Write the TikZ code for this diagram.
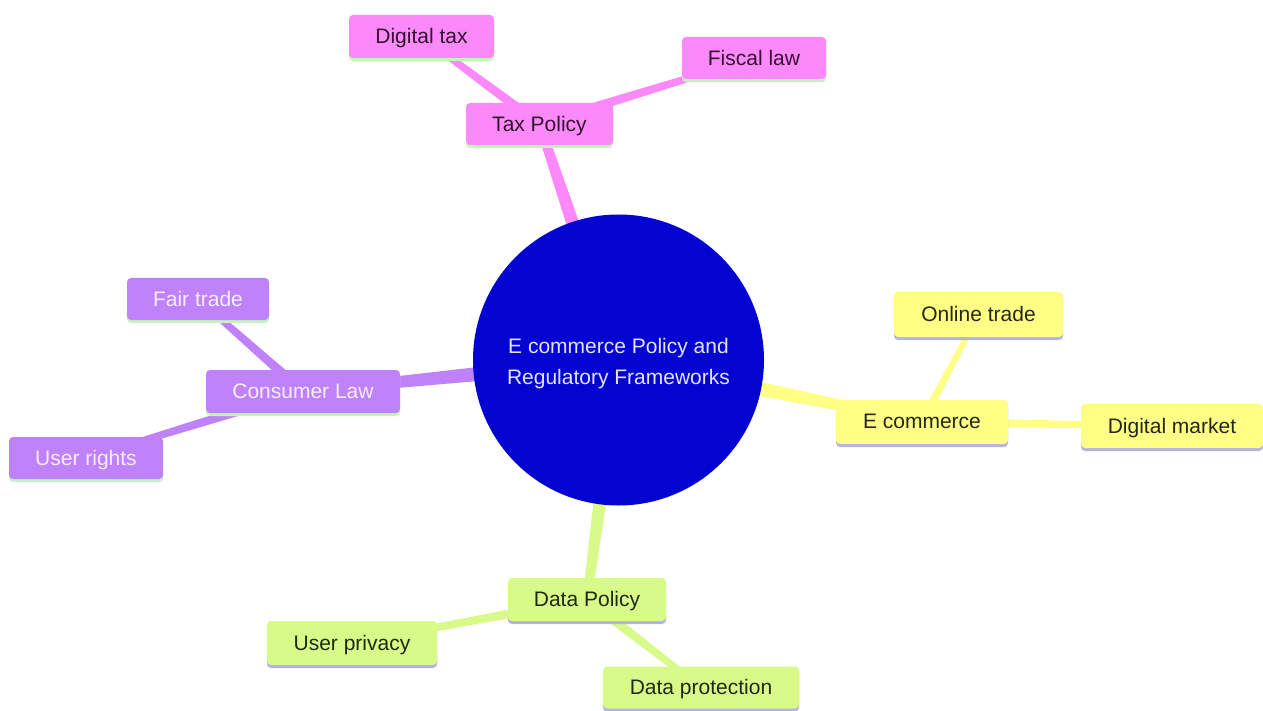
\documentclass[tikz,border=0pt]{standalone}
\usepackage{fontspec}
\setmainfont{Liberation Sans}
\usetikzlibrary{calc,shadows}
\definecolor{pinkF}{HTML}{FC89F9}
\definecolor{purpF}{HTML}{C082FA}
\definecolor{yellF}{HTML}{FFFF86}
\definecolor{grenF}{HTML}{D8FA88}
\definecolor{coreF}{HTML}{0404D2}
\definecolor{shGreen}{HTML}{C6F2C0}
\definecolor{shLav}{HTML}{B4B2E4}
\definecolor{pinkT}{HTML}{33102F}
\definecolor{purpT}{HTML}{F6EEFF}
\definecolor{yellT}{HTML}{262616}
\definecolor{grenT}{HTML}{1E2A0E}
\definecolor{coreT}{HTML}{E4E2FF}
\pgfdeclarelayer{bg}
\pgfsetlayers{bg,main}
\newcommand\mmbranch[5]{%
  \fill[#1] ($(#2.center)!#4!90:(#3.center)$) -- ($(#3.center)!#5!-90:(#2.center)$) --
            ($(#3.center)!#5!90:(#2.center)$) -- ($(#2.center)!#4!-90:(#3.center)$) -- cycle;}
\begin{document}
\begin{tikzpicture}[x=1pt,y=-1pt,
  every node/.style={font=\fontsize{21}{31}\selectfont},
  box/.style={rectangle, rounded corners=4pt, inner sep=0pt, align=center, text depth=1pt},
  pinkbox/.style={box, fill=pinkF, text=pinkT,
    drop shadow={shadow xshift=0pt, shadow yshift=-3pt, fill=shGreen, opacity=1}},
  purpbox/.style={box, fill=purpF, text=purpT,
    drop shadow={shadow xshift=0pt, shadow yshift=-3pt, fill=shGreen, opacity=1}},
  yellbox/.style={box, fill=yellF, text=yellT,
    drop shadow={shadow xshift=0pt, shadow yshift=-3pt, fill=shLav, opacity=1}},
  grenbox/.style={box, fill=grenF, text=grenT,
    drop shadow={shadow xshift=0pt, shadow yshift=-3pt, fill=shLav, opacity=1}},
  core/.style={circle, fill=coreF, text=coreT, inner sep=0pt, minimum size=291pt, align=center}
]
\useasboundingbox (0,0) rectangle (1263,711);

\node[core] (root) at (618.5,360) {};
\node[text=coreT, align=center] (roottext) at (618.5,364) {E commerce Policy and\\Regulatory Frameworks};

\node[pinkbox, minimum width=147pt, minimum height=42pt] (tax) at (539.5,124) {Tax Policy};
\node[pinkbox, minimum width=145pt, minimum height=43pt] (dtax) at (421.5,36.5) {Digital tax};
\node[pinkbox, minimum width=144pt, minimum height=42pt] (fiscal) at (754,58) {Fiscal law};

\node[purpbox, minimum width=194pt, minimum height=43pt] (cons) at (303,391.5) {Consumer Law};
\node[purpbox, minimum width=142pt, minimum height=42pt] (fair) at (198,299) {Fair trade};
\node[purpbox, minimum width=154pt, minimum height=42pt] (urights) at (86,458) {User rights};

\node[yellbox, minimum width=172pt, minimum height=44pt] (ecom) at (922,422) {E commerce};
\node[yellbox, minimum width=169pt, minimum height=45pt] (online) at (978.5,314.5) {Online trade};
\node[yellbox, minimum width=182pt, minimum height=44pt] (dmarket) at (1172,426) {Digital market};

\node[grenbox, minimum width=158pt, minimum height=43pt] (data) at (587,599.5) {Data Policy};
\node[grenbox, minimum width=170pt, minimum height=44pt] (privacy) at (352,643) {User privacy};
\node[grenbox, minimum width=196pt, minimum height=42pt] (protect) at (701,687.5) {Data protection};

\begin{pgfonlayer}{bg}
\fill[white] (0,0) rectangle (1263,711);
\mmbranch{pinkF}{root}{tax}{9pt}{4.5pt}
\mmbranch{purpF}{root}{cons}{9pt}{4.5pt}
\mmbranch{yellF}{root}{ecom}{9pt}{4.5pt}
\mmbranch{grenF}{root}{data}{9pt}{4.5pt}
\mmbranch{pinkF}{tax}{dtax}{5pt}{3pt}
\mmbranch{pinkF}{tax}{fiscal}{5pt}{3pt}
\mmbranch{purpF}{cons}{fair}{5pt}{3pt}
\mmbranch{purpF}{cons}{urights}{5pt}{3pt}
\mmbranch{yellF}{ecom}{online}{4pt}{2.5pt}
\mmbranch{yellF}{ecom}{dmarket}{4.5pt}{3pt}
\mmbranch{grenF}{data}{privacy}{5pt}{3pt}
\mmbranch{grenF}{data}{protect}{5pt}{3pt}
\end{pgfonlayer}
\end{tikzpicture}
\end{document}
